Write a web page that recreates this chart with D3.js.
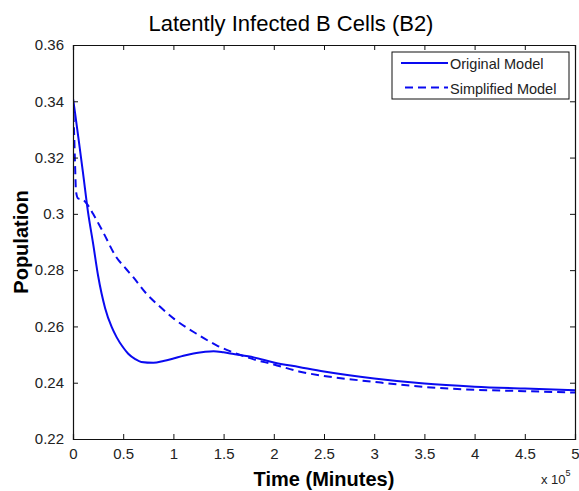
<!DOCTYPE html>
<html lang="en">
<head>
<meta charset="UTF-8">
<title>Latently Infected B Cells (B2)</title>
<style>
  body { margin: 0; background: #fff; }
  svg text { font-family: "Liberation Sans", Arial, Helvetica, sans-serif; fill: #000; }
</style>
</head>
<body>
<script src="https://cdn.jsdelivr.net/npm/d3@7/dist/d3.min.js"></script>
<script>

// time in units of 1e5 minutes
var timeOriginal = [0, 0.02, 0.05, 0.1, 0.15, 0.2, 0.25, 0.32, 0.385, 0.434, 0.5, 0.55, 0.62, 0.68, 0.8, 0.9, 1.0, 1.1, 1.2, 1.3, 1.4, 1.5, 1.6, 1.8, 2.0, 2.25, 2.5, 3.0, 3.5, 4.0, 4.5, 5.0];
var popOriginal = [0.341, 0.336, 0.328, 0.3145, 0.3005, 0.2895, 0.278, 0.2665, 0.2598, 0.2562, 0.2525, 0.2503, 0.2484, 0.2474, 0.2471, 0.2477, 0.2486, 0.2496, 0.2504, 0.2509, 0.2512, 0.2508, 0.2502, 0.249, 0.2472, 0.2456, 0.244, 0.2415, 0.2397, 0.2386, 0.2379, 0.2373];

var timeSimplified = [0, 0.01, 0.02, 0.03, 0.05, 0.1, 0.15, 0.2, 0.3, 0.43, 0.52, 0.6, 0.73, 0.87, 1.01, 1.23, 1.43, 1.6, 1.8, 2.0, 2.25, 2.5, 3.0, 3.5, 4.0, 4.5, 5.0];
var popSimplified = [0.340, 0.330, 0.318, 0.308, 0.3055, 0.305, 0.303, 0.300, 0.2935, 0.2847, 0.2808, 0.2775, 0.2717, 0.2669, 0.2626, 0.2574, 0.2533, 0.2507, 0.2483, 0.2465, 0.244, 0.2424, 0.2403, 0.2385, 0.2375, 0.237, 0.2365];

var xTicks = [0, 0.5, 1, 1.5, 2, 2.5, 3, 3.5, 4, 4.5, 5];
var yTicks = [0.22, 0.24, 0.26, 0.28, 0.3, 0.32, 0.34, 0.36];
var seriesNames = ["Original Model", "Simplified Model"];

var margin = {top: 45, right: 4, bottom: 52, left: 73},
    width = 579 - margin.left - margin.right,
    height = 491 - margin.top - margin.bottom;

var blue = "#0a0af0";

var svg = d3.select("body")
  .append("svg")
  .attr("width", 579)
  .attr("height", 491);

var g = svg.append("g")
  .attr("transform", "translate(" + margin.left + "," + margin.top + ")");

var x = d3.scaleLinear().domain([0, 5]).range([0, width]);
var y = d3.scaleLinear().domain([0.22, 0.36]).range([height, 0]);

g.append("clipPath").attr("id", "clip")
  .append("rect").attr("width", width).attr("height", height);

var line = d3.line()
  .x(function(d) { return x(d[0]); })
  .y(function(d) { return y(d[1]); })
  .curve(d3.curveMonotoneX);

var original = d3.zip(timeOriginal, popOriginal);
var simplified = d3.zip(timeSimplified, popSimplified);

g.append("path")
  .datum(simplified)
  .attr("clip-path", "url(#clip)")
  .attr("d", line)
  .style("fill", "none")
  .style("stroke", blue)
  .style("stroke-width", 2)
  .style("stroke-dasharray", "8,5");

g.append("path")
  .datum(original)
  .attr("clip-path", "url(#clip)")
  .attr("d", line)
  .style("fill", "none")
  .style("stroke", blue)
  .style("stroke-width", 2);

// axes, matlab style: inward ticks on all four sides
function fmt(d) { return d3.format("")(+d.toFixed(2)); }

var xAxis = g.append("g")
  .attr("transform", "translate(0," + height + ")")
  .call(d3.axisBottom(x).tickValues(xTicks).tickSize(-5).tickPadding(9).tickFormat(fmt));
var xTop = g.append("g")
  .call(d3.axisTop(x).tickValues(xTicks).tickSize(-5).tickFormat(""));
var yAxis = g.append("g")
  .call(d3.axisLeft(y).tickValues(yTicks).tickSize(-5).tickPadding(9).tickFormat(fmt));
var yRight = g.append("g")
  .attr("transform", "translate(" + width + ",0)")
  .call(d3.axisRight(y).tickValues(yTicks).tickSize(-5).tickFormat(""));

[xAxis, xTop, yAxis, yRight].forEach(function(a) {
  a.selectAll("path").style("stroke", "#111").style("stroke-width", 1.2);
  a.selectAll("line").style("stroke", "#111");
  a.selectAll("text").style("font-size", "15px").style("fill", "#222");
});
xAxis.selectAll("text").attr("dy", "0.71em");

// exponent label
var ex = svg.append("text")
  .attr("x", 541)
  .attr("y", 484)
  .style("font-size", "13px")
  .style("fill", "#222")
  .text("x 10");
ex.append("tspan")
  .attr("dy", -8)
  .style("font-size", "9px")
  .text("5");

// title and labels
svg.append("text")
  .attr("x", 291)
  .attr("y", 31)
  .attr("text-anchor", "middle")
  .style("font-size", "22px")
  .text("Latently Infected B Cells (B2)");

svg.append("text")
  .attr("x", margin.left + width / 2)
  .attr("y", 486)
  .attr("text-anchor", "middle")
  .style("font-size", "20px")
  .style("font-weight", "bold")
  .text("Time (Minutes)");

svg.append("text")
  .attr("transform", "translate(28," + (margin.top + height / 2) + ") rotate(-90)")
  .attr("text-anchor", "middle")
  .style("font-size", "20px")
  .style("font-weight", "bold")
  .text("Population");

// legend
var legend = svg.append("g").attr("transform", "translate(392,52)");
legend.append("rect")
  .attr("width", 177)
  .attr("height", 47)
  .style("fill", "#fff")
  .style("stroke", "#111")
  .style("stroke-width", 1);

var rows = legend.selectAll("g.row")
  .data(seriesNames)
  .enter()
  .append("g")
  .attr("class", "row")
  .attr("transform", function(d, i) { return "translate(0," + (11 + i * 24.5) + ")"; });

rows.append("line")
  .attr("x1", function(d, i) { return i === 0 ? 9 : 13; })
  .attr("x2", 56)
  .style("stroke", blue)
  .style("stroke-width", 2)
  .style("stroke-dasharray", function(d, i) { return i === 0 ? null : "8,5"; });

rows.append("text")
  .attr("x", 58)
  .attr("y", 6)
  .style("font-size", "14.5px")
  .style("fill", "#222")
  .text(function(d) { return d; });

</script>
</body>
</html>
